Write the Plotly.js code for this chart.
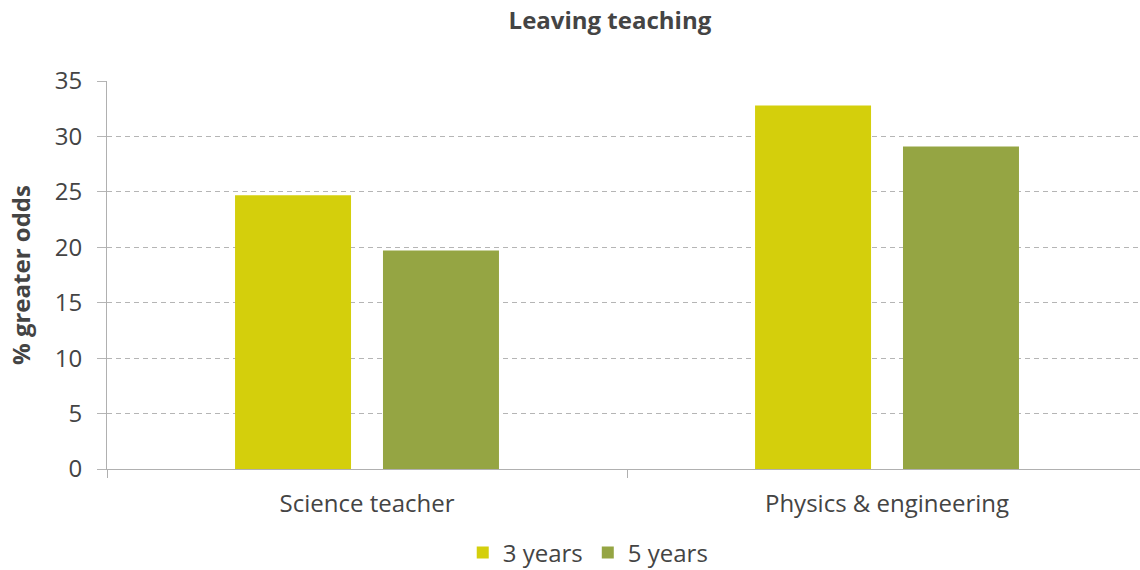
<!DOCTYPE html>
<html>
<head>
<meta charset="utf-8">
<script src="https://cdn.plot.ly/plotly-3.0.1.min.js"></script>
<style>html,body{margin:0;padding:0;background:#fff;}#chart{width:1140px;height:570px;}</style>
</head>
<body>
<div id="chart"></div>
<script>
const categories = ["Science teacher", "Physics & engineering"];
const seriesNames = ["3 years", "5 years"];
const threeYears = [24.7, 32.8];
const fiveYears = [19.7, 29.1];
const colors = ["#d4cf0c", "#95a543"];
const font = "'Open Sans', 'Noto Sans', sans-serif";
const textColor = "#444444";

const traces = [threeYears, fiveYears].map((vals, i) => ({
  type: "bar",
  name: seriesNames[i],
  x: categories,
  y: vals,
  marker: {color: colors[i], line: {width: 0}},
  hoverinfo: "x+y+name"
}));

const layout = {
  width: 1140, height: 570,
  margin: {l: 107, r: 0, t: 81, b: 101},
  paper_bgcolor: "#ffffff", plot_bgcolor: "#ffffff",
  font: {family: font, size: 24, color: textColor},
  title: {text: "<b>Leaving teaching</b>", x: 0.535, xref: "container", xanchor: "center", y: 0.963, yanchor: "middle", font: {family: font, size: 24, color: textColor}},
  barmode: "group",
  bargap: 0.431,
  bargroupgap: 0.216,
  xaxis: {
    type: "category",
    range: [-0.5, 1.4865],
    showgrid: false,
    showline: true, linecolor: "#b0b0b0", linewidth: 1,
    ticks: "outside", tickson: "boundaries", ticklen: 8, tickcolor: "#b0b0b0",
    tickfont: {family: font, size: 24, color: textColor},
    ticklabelstandoff: 13,
    automargin: false,
    zeroline: false, fixedrange: true
  },
  yaxis: {
    range: [0, 35], dtick: 5, tick0: 0,
    showgrid: true, gridcolor: "#b5b5b5", griddash: "5px,4px", gridwidth: 1,
    showline: true, linecolor: "#b0b0b0", linewidth: 1,
    ticks: "outside", ticklen: 9, tickcolor: "#b5b5b5",
    tickfont: {family: font, size: 24, color: textColor},
    ticklabelstandoff: 10,
    zeroline: true, zerolinecolor: "#b0b0b0", zerolinewidth: 1,
    title: {text: "<b>% greater odds</b>", font: {family: font, size: 24, color: textColor}, standoff: 17},
    automargin: false, fixedrange: true
  },
  legend: {
    orientation: "h", x: 0.516, xref: "container", xanchor: "center", y: 0.03, yref: "container", yanchor: "middle",
    font: {family: font, size: 24, color: textColor},
    itemwidth: 30, itemsizing: "constant", traceorder: "normal", tracegroupgap: 0
  },
  showlegend: true
};

Plotly.newPlot("chart", traces, layout, {displayModeBar: false, staticPlot: true});
</script>
</body>
</html>
